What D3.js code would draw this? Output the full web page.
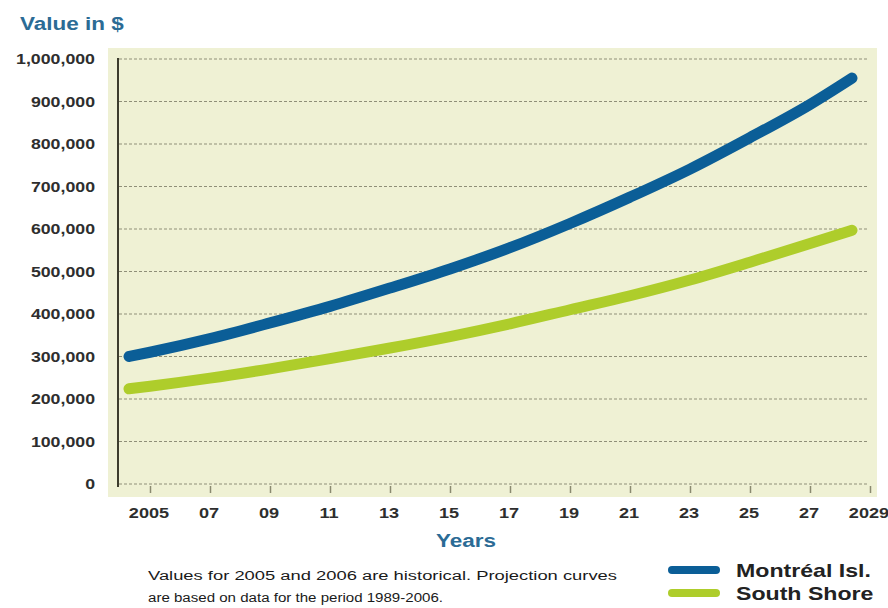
<!DOCTYPE html>
<html>
<head>
<meta charset="utf-8">
<script src="https://cdn.jsdelivr.net/npm/d3@7"></script>
<style>
  body { margin: 0; background: #ffffff; }
  svg { display: block; }
</style>
</head>
<body>
<div id="chart"></div>
<script>
/////////////////////////////////////////
//////////////// DATA ///////////////////
/////////////////////////////////////////

const years = [2004.3, 2005, 2007, 2009, 2011, 2013, 2015, 2017, 2019, 2021, 2023, 2025, 2027, 2028.4];
const montreal = [300000, 310000, 342000, 379000, 418000, 461000, 506000, 556000, 613000, 675000, 741000, 815000, 893000, 955000];
const southShore = [224000, 230000, 249000, 271000, 295000, 320000, 347000, 377000, 410000, 443000, 480000, 522000, 566000, 597000];

const yTicks = [0, 100000, 200000, 300000, 400000, 500000, 600000, 700000, 800000, 900000, 1000000];
const xTicks = [2005, 2007, 2009, 2011, 2013, 2015, 2017, 2019, 2021, 2023, 2025, 2027, 2029];
const xTickLabels = ["2005", "07", "09", "11", "13", "15", "17", "19", "21", "23", "25", "27", "2029"];

const seriesNames = ["Montréal Isl.", "South Shore"];
const noteLines = [
    "Values for 2005 and 2006 are historical. Projection curves",
    "are based on data for the period 1989-2006."
];

/////////////////////////////////////////
/////////////// COLORS //////////////////
/////////////////////////////////////////

const COLORS = {
    "plot": "#eff1d4",
    "axis": "#3c3c2c",
    "grid": "#8f8f78",
    "tick": "#8a8a70",
    "montreal": "#0b5e97",
    "south": "#aecd2b",
    "title": "#2b6b95",
    "label": "#2e2e2e",
    "note": "#1a1a1a"
};

const W = 888, H = 608;
const SX = 1.25; //the picture is stretched horizontally

const svg = d3.select("#chart").append("svg")
    .attr("width", W)
    .attr("height", H)
    .style("font-family", "'Liberation Sans', Arial, sans-serif");

//scales
const x = d3.scaleLinear().domain([2004, 2029]).range([120, 870]);
const y = d3.scaleLinear().domain([0, 1000000]).range([484, 59]);

//stretched text helper
function addText(px, py, txt, o = {}) {
    return svg.append("text")
        .attr("transform", `translate(${px},${py}) scale(${o.sx || SX},1)`)
        .attr("text-anchor", o.anchor || "start")
        .attr("font-size", o.size || 14)
        .attr("font-weight", o.weight || "bold")
        .attr("fill", o.fill || COLORS.label)
        .text(txt);
}

//plot background
svg.append("rect")
    .attr("x", 108).attr("y", 48)
    .attr("width", 769).attr("height", 449)
    .attr("fill", COLORS.plot);

//gridlines
svg.append("g")
    .selectAll("line")
    .data(yTicks)
    .join("line")
    .attr("x1", 119).attr("x2", 869)
    .attr("y1", d => y(d)).attr("y2", d => y(d))
    .attr("stroke", COLORS.grid)
    .attr("stroke-width", 1.2)
    .attr("stroke-dasharray", "3,2");

//x ticks
const xAxis = svg.append("g")
    .attr("transform", "translate(0,486)")
    .call(d3.axisBottom(x).tickValues(xTicks).tickSize(7).tickFormat(""));
xAxis.select(".domain").remove();
xAxis.selectAll(".tick line").attr("stroke", COLORS.tick).attr("stroke-width", 1.5);

//y axis line
svg.append("line")
    .attr("x1", 118).attr("x2", 118)
    .attr("y1", y(1000000) - 1).attr("y2", 487)
    .attr("stroke", COLORS.axis)
    .attr("stroke-width", 2);

//y labels
yTicks.forEach(v => addText(95, y(v) + 5, d3.format(",")(v), {anchor: "end", size: 14.2}));

//x labels
xTicks.forEach((v, i) => addText(x(v) - 1, 518, xTickLabels[i], {anchor: "middle", size: 14.5}));

//titles
addText(20, 30, "Value in $", {size: 18, fill: COLORS.title});
addText(466, 547, "Years", {anchor: "middle", size: 18, fill: COLORS.title});

//curves
const line = d3.line()
    .x(d => x(d[0]))
    .y(d => y(d[1]))
    .curve(d3.curveMonotoneX);

const series = [
    {name: seriesNames[0], values: montreal, color: COLORS.montreal},
    {name: seriesNames[1], values: southShore, color: COLORS.south}
];

svg.append("g")
    .selectAll("path")
    .data(series)
    .join("path")
    .attr("d", s => line(years.map((yr, i) => [yr, s.values[i]])))
    .attr("fill", "none")
    .attr("stroke", s => s.color)
    .attr("stroke-width", 11)
    .attr("stroke-linecap", "round")
    .attr("stroke-linejoin", "round");

//note
noteLines.forEach((t, i) => {
    svg.append("text")
        .attr("x", 148)
        .attr("y", 580 + i * 22)
        .attr("font-size", 12.5)
        .attr("fill", COLORS.note)
        .attr("textLength", i === 0 ? 469 : 295)
        .attr("lengthAdjust", "spacingAndGlyphs")
        .text(t);
});

//legend
series.forEach((s, i) => {
    const ly = 570 + i * 23;
    svg.append("line")
        .attr("x1", 672).attr("x2", 716)
        .attr("y1", ly).attr("y2", ly)
        .attr("stroke", s.color)
        .attr("stroke-width", 8)
        .attr("stroke-linecap", "round");
    addText(736, ly + 7, s.name, {size: 18.5, fill: "#222"});
});
</script>
</body>
</html>
